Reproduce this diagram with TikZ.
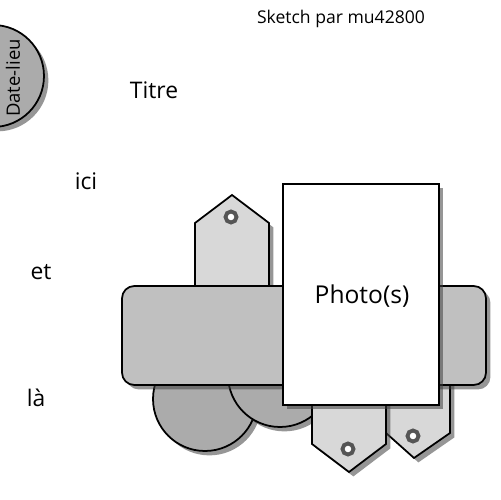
\documentclass[tikz,border=0pt]{standalone}
\usepackage{fontspec}
\setmainfont{Open Sans}
\usetikzlibrary{shadows}

\definecolor{tagfill}{HTML}{D8D8D8}
\definecolor{bandfill}{HTML}{C0C0C0}
\definecolor{roundfill}{HTML}{ABABAB}
\definecolor{holegray}{HTML}{555555}

\begin{document}
\begin{tikzpicture}[x=0.02cm, y=-0.02cm,
    piece/.style={draw=black, line width=1pt, drop shadow={shadow xshift=2.5pt, shadow yshift=-2.5pt, opacity=0.55, fill=black!75}},
    hole/.style={draw=holegray, line width=2.2pt, fill=white},
    label/.style={font=\fontsize{13}{15}\selectfont, inner sep=0pt}]
    \useasboundingbox (0,0) rectangle (500,500);
    % date circle on the edge
    \fill[white] (0,0) rectangle (500,500);
    \draw[piece, fill=roundfill] (-7,76) circle[radius=1.02cm];
    \node[rotate=90, font=\fontsize{10.5}{12}\selectfont] (datelieu) at (13,78) {Date-lieu};
    \node[font=\fontsize{10}{12}\selectfont] (sketch) at (341,19) {Sketch par mu42800};
    % left texts
    \node[label] (titre) at (154,90) {Titre};
    \node[label] (ici) at (86,181) {ici};
    \node[label] (et) at (41,272) {et};
    \node[label] (la) at (36,398) {là};
    % tag behind the band
    \draw[piece, fill=tagfill] (195,295) -- (195,223) -- (232,195) -- (269,223) -- (269,295) -- cycle;
    \draw[hole] (231,217) circle[radius=0.11cm];
    % circles below the band
    \draw[piece, fill=roundfill] (205,399) circle[radius=1.04cm];
    \draw[piece, fill=roundfill] (280,375) circle[radius=1.04cm];
    % tags at the bottom
    \draw[piece, fill=tagfill] (386,370) -- (386,433) -- (414,458) -- (450,433) -- (450,370) -- cycle;
    \draw[hole] (413,436) circle[radius=0.11cm];
    \draw[piece, fill=tagfill] (312,395) -- (312,444) -- (349,472) -- (386,444) -- (386,395) -- cycle;
    \draw[hole] (348,449) circle[radius=0.11cm];
    % band
    \draw[piece, fill=bandfill, rounded corners=7pt] (122,286) rectangle (486,385);
    % photo
    \draw[piece, fill=white] (283,184) rectangle (439,405);
    \node[font=\fontsize{14}{16}\selectfont] (photo) at (362,296) {Photo(s)};
\end{tikzpicture}
\end{document}
